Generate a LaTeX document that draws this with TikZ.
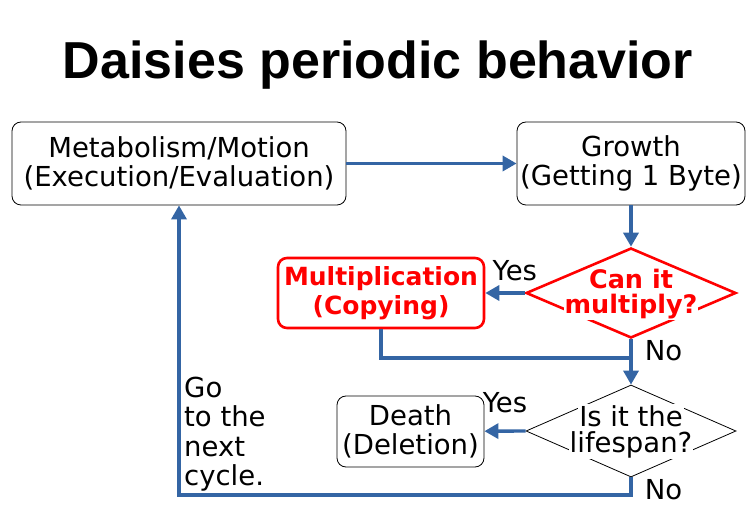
\documentclass[tikz,border=0pt]{standalone}
\usepackage{fontspec}
\setmainfont{DejaVu Sans}
\newfontfamily\titlefont{Liberation Sans}
\usetikzlibrary{shapes.geometric}
\usetikzlibrary{arrows.meta}
\definecolor{flowblue}{HTML}{3465A4}
\definecolor{alertred}{HTML}{FF0000}

\begin{document}
\begin{tikzpicture}[x=1pt, y=-1pt,
    box/.style={draw, rounded corners=9pt, line width=0.8pt, inner sep=0pt, align=center},
    redbox/.style={box, draw=alertred, text=alertred, line width=2.6pt, font=\fontsize{25}{29}\selectfont\bfseries},
    decision/.style={diamond, draw, line width=0.8pt, inner sep=0pt},
    dtext/.style={fill=white, inner sep=1pt},
    flow/.style={draw=flowblue, line width=3.4pt, -{Triangle[length=14pt, width=15pt]}},
    flowline/.style={draw=flowblue, line width=3.4pt},
    note/.style={font=\fontsize{27.5}{29.3}\selectfont}]
            \useasboundingbox (0,0) rectangle (756,529);
            \fontsize{27.5}{29.3}\selectfont

            % Nodes
            \node[font=\titlefont\fontsize{52}{60}\selectfont\bfseries] (title) at (378, 65) {Daisies periodic behavior};
            \node[box, minimum width=334pt, minimum height=83pt] (meta) at (179, 163.5) {Metabolism/Motion\\(Execution/Evaluation)};
            \node[box, minimum width=228pt, minimum height=83pt] (grow) at (631, 163.5) {Growth\\(Getting 1 Byte)};
            \node[decision, draw=alertred, line width=2.6pt, minimum width=210pt, minimum height=90pt] (can) at (631, 293) {};
            \node[dtext, text=alertred, font=\fontsize{25.5}{29}\selectfont\bfseries] (can1) at (631, 279) {Can it};
            \node[dtext, text=alertred, font=\fontsize{25.5}{29}\selectfont\bfseries] (can2) at (631, 307) {multiply?};
            \node[redbox, minimum width=206pt, minimum height=70pt] (copy) at (381, 293) {Multiplication\\(Copying)};
            \node[decision, minimum width=210pt, minimum height=92pt] (life) at (631, 431) {};
            \node[dtext] (life1) at (631, 416) {Is it the};
            \node[dtext] (life2) at (631, 445) {lifespan?};
            \node[box, minimum width=147pt, minimum height=71pt] (death) at (410.5, 431.5) {Death\\(Deletion)};
            \node[note, align=left, anchor=north west, inner sep=0pt] (next) at (184, 377) {Go\\to the\\next\\cycle.};
            \coordinate (join) at (631, 358);
            \coordinate (back) at (631, 495);

            % Lines
            \draw[flow] (meta) -- (grow);
            \draw[flow] (grow) -- (can);
            \draw[flow] (can.west) -- (copy) node[note, pos=0.25, above=1pt] {Yes};
            \draw[flowline] (copy.south) |- (join);
            \draw[flow] (can.south) -- (life.north) node[note, pos=0.25, right=3pt] {No};
            \draw[flow] (life.west) -- (death) node[note, pos=0.5, above=7pt] {Yes};
            \draw[flow] (life.south) -- node[note, right=3pt, yshift=-3pt] {No} (back) -| (meta.south);

        \end{tikzpicture}
\end{document}
